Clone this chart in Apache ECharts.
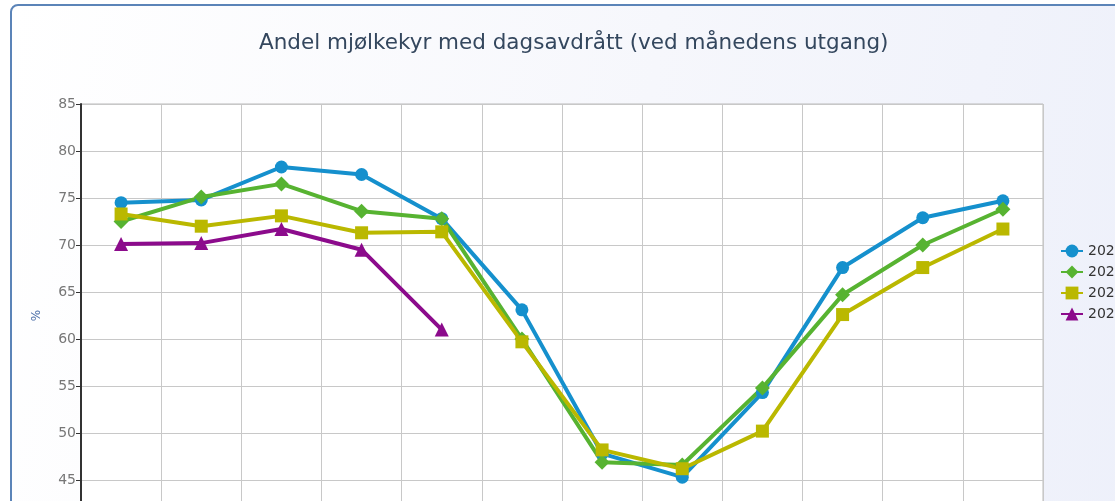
<!DOCTYPE html>
<html>
<head>
<meta charset="utf-8">
<script src="https://cdn.jsdelivr.net/npm/echarts@6/dist/echarts.min.js"></script>
<style>
  html, body { margin: 0; padding: 0; overflow: hidden; background: #fff; }
  #panel {
    position: absolute;
    left: 10px;
    top: 4px;
    width: 1200px;
    height: 620px;
    border: 2px solid #5b84b8;
    border-radius: 8px;
    background: linear-gradient(100deg, #ffffff 0%, #f6f7fc 50%, #eceffa 100%);
  }
  #chart { width: 1200px; height: 620px; }
</style>
</head>
<body>
<div id="panel"><div id="chart"></div></div>
<script>
var months = ["jan", "feb", "mar", "apr", "mai", "jun", "jul", "aug", "sep", "okt", "nov", "des"];
var years = ["2020", "2021", "2022", "2023"];
var yTicks = { min: 40, max: 85, step: 5 };

var s2020 = [74.5, 74.8, 78.3, 77.5, 72.8, 63.1, 47.8, 45.3, 54.3, 67.6, 72.9, 74.7];
var s2021 = [72.5, 75.1, 76.5, 73.6, 72.8, 60.0, 46.9, 46.6, 54.8, 64.7, 70.0, 73.8];
var s2022 = [73.3, 72.0, 73.1, 71.3, 71.4, 59.7, 48.2, 46.2, 50.2, 62.6, 67.6, 71.7];
var s2023 = [70.1, 70.2, 71.7, 69.5, 61.0];

var colors = ["#1590cd", "#57b331", "#bab800", "#8c0b8c"];
var symbols = ["circle", "diamond", "rect", "triangle"];
var sizes = [13, 15, 13, 14];
var seriesData = [s2020, s2021, s2022, s2023];

var chart = echarts.init(document.getElementById("chart"));

var series = years.map(function (y, i) {
  return {
    name: y,
    type: "line",
    data: seriesData[i],
    symbol: symbols[i],
    symbolSize: sizes[i],
    showAllSymbol: true,
    lineStyle: { width: 4, color: colors[i] },
    itemStyle: { color: colors[i] },
    emphasis: { disabled: true }
  };
});

chart.setOption({
  animation: false,
  textStyle: { fontFamily: "DejaVu Sans" },
  title: {
    text: "Andel mjølkekyr med dagsavdrått (ved månedens utgang)",
    left: 242,
    top: 21,
    textStyle: { fontSize: 21.5, fontWeight: "normal", color: "#34475e", fontFamily: "DejaVu Sans" }
  },
  legend: {
    orient: "vertical",
    left: 1043,
    top: 233,
    itemGap: 7,
    itemWidth: 22,
    itemHeight: 16,
    textStyle: { fontSize: 14, color: "#333" },
    data: years
  },
  grid: {
    left: 69,
    top: 98,
    width: 962,
    height: 423,
    show: true,
    backgroundColor: "#fff",
    borderColor: "#bbb",
    borderWidth: 1
  },
  xAxis: {
    type: "category",
    data: months,
    boundaryGap: true,
    axisLine: { lineStyle: { color: "#333" } },
    axisTick: { show: false },
    splitLine: { show: true, lineStyle: { color: "#c8c8c8", width: 1 } },
    axisLabel: { color: "#666", fontSize: 13 }
  },
  yAxis: {
    type: "value",
    min: yTicks.min,
    max: yTicks.max,
    interval: yTicks.step,
    name: "%",
    nameLocation: "middle",
    nameGap: 38,
    nameRotate: 90,
    nameTextStyle: { color: "#4a6ea8", fontSize: 12 },
    axisLine: { show: true, lineStyle: { color: "#333", width: 2 } },
    axisTick: { show: true, length: 5, lineStyle: { color: "#333" } },
    axisLabel: { color: "#777", fontSize: 14, margin: 5 },
    splitLine: { show: true, lineStyle: { color: "#c8c8c8", width: 1 } }
  },
  series: series
});
</script>
</body>
</html>
